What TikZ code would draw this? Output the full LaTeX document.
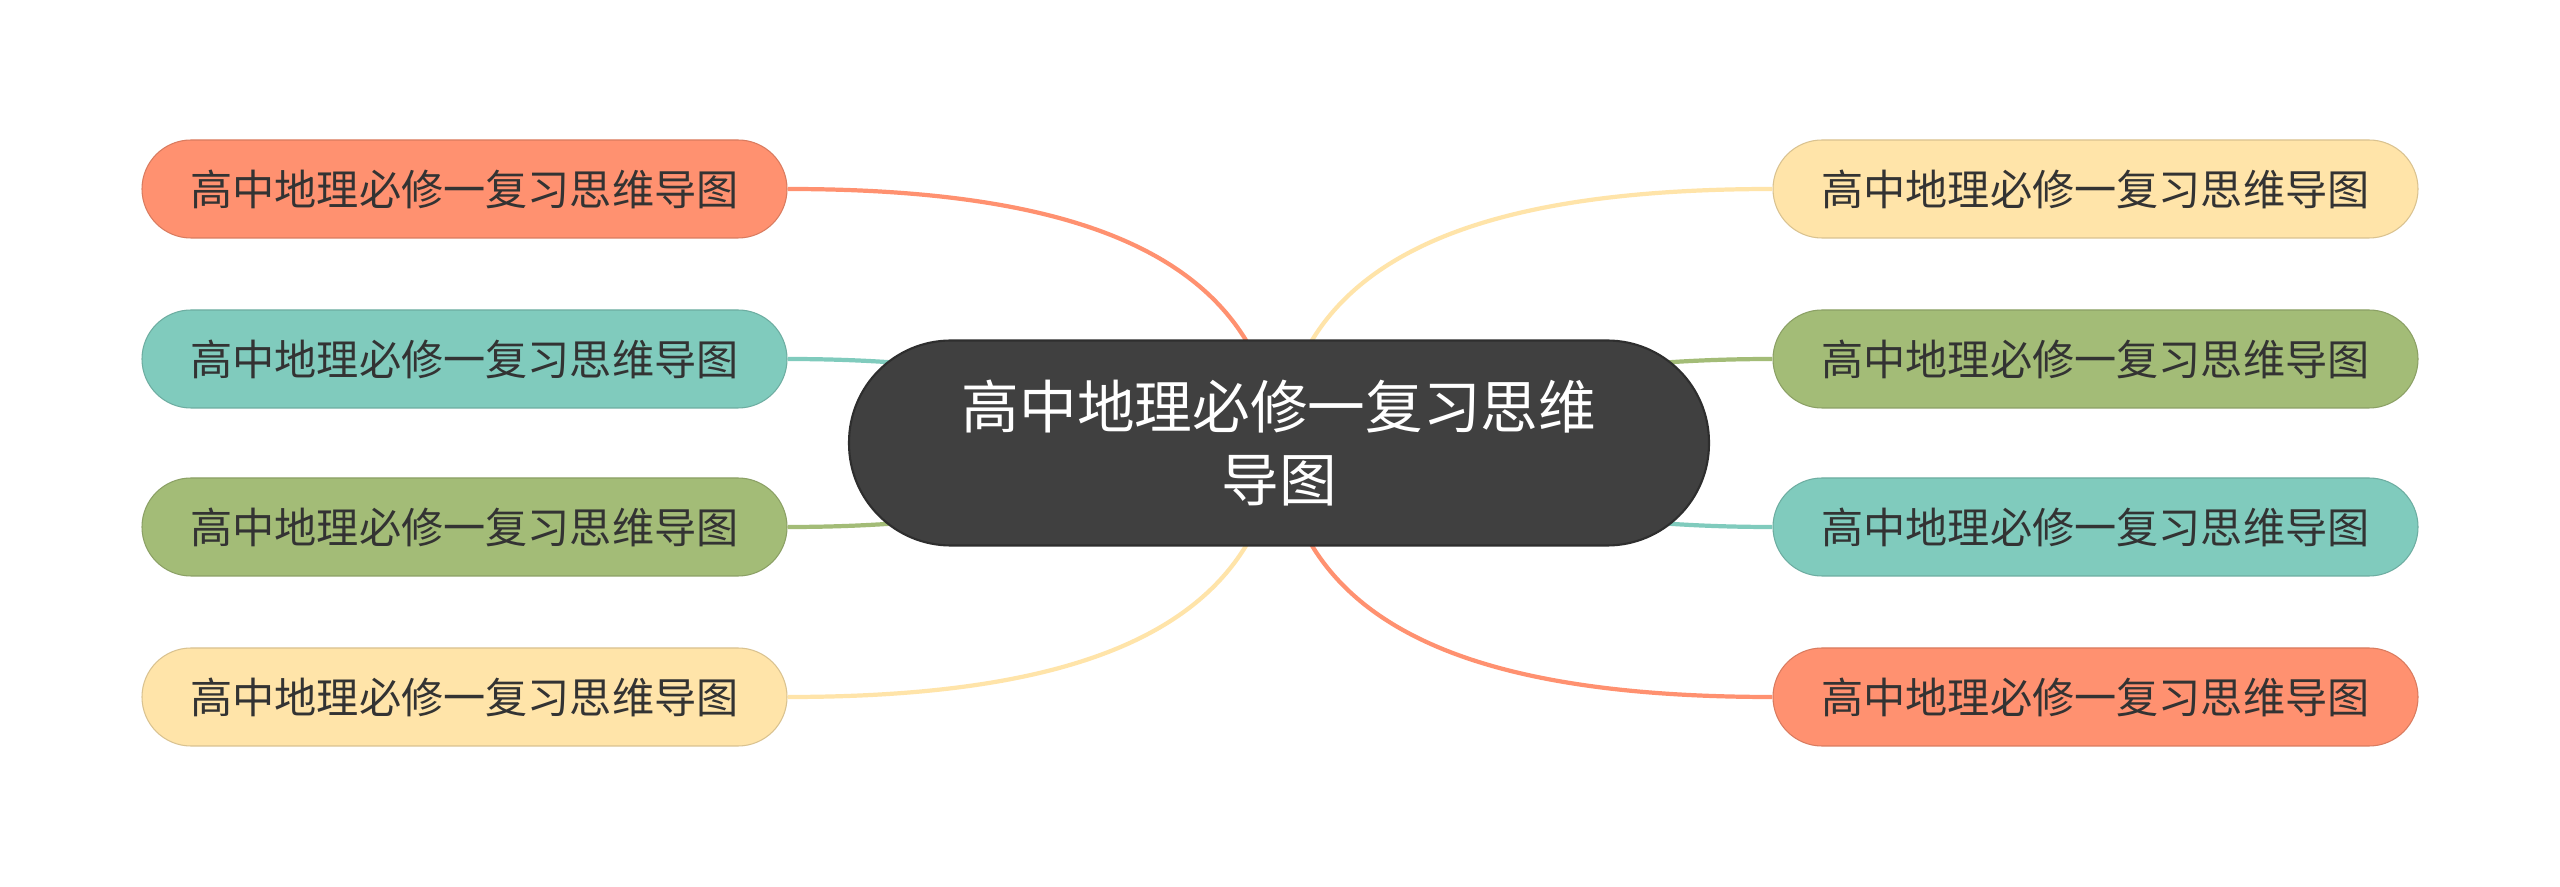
\documentclass[tikz,border=0pt]{standalone}
\usepackage{fontspec}
\setmainfont{Noto Sans CJK SC}
\definecolor{hubgray}{HTML}{404040}
\definecolor{hubedge}{HTML}{2E2E2E}
\definecolor{txtgray}{HTML}{333333}
\definecolor{mmorange}{HTML}{FF9170}
\definecolor{mmteal}{HTML}{80CBBD}
\definecolor{mmgreen}{HTML}{A3BC77}
\definecolor{mmyellow}{HTML}{FFE4A9}
\tikzset{
    hub/.style={rectangle,rounded corners=1.02cm,fill=hubgray,draw=hubedge,line width=0.6pt,
        minimum width=8.6cm,minimum height=2.05cm,align=center,text=white,
        font=\fontsize{16.4pt}{20.7pt}\selectfont},
    branch/.style={rectangle,rounded corners=0.49cm,fill=#1,draw=#1!85!black,line width=0.3pt,
        minimum width=6.45cm,minimum height=0.98cm,text=txtgray,
        font=\fontsize{12pt}{15pt}\selectfont},
    link/.style={#1,line width=1.2pt}
}
\begin{document}
\begin{tikzpicture}
    \useasboundingbox[fill=white] (0,0) rectangle (25.6,8.86);

    % left branches
    \node[branch=mmorange] (l1) at (4.645,6.97) {高中地理必修一复习思维导图};
    \node[branch=mmteal]   (l2) at (4.645,5.27) {高中地理必修一复习思维导图};
    \node[branch=mmgreen]  (l3) at (4.645,3.59) {高中地理必修一复习思维导图};
    \node[branch=mmyellow] (l4) at (4.645,1.89) {高中地理必修一复习思维导图};

    % right branches
    \node[branch=mmyellow] (r1) at (20.955,6.97) {高中地理必修一复习思维导图};
    \node[branch=mmgreen]  (r2) at (20.955,5.27) {高中地理必修一复习思维导图};
    \node[branch=mmteal]   (r3) at (20.955,3.59) {高中地理必修一复习思维导图};
    \node[branch=mmorange] (r4) at (20.955,1.89) {高中地理必修一复习思维导图};

    \coordinate (c) at (12.79,4.43);

    % connectors, behind the hub
    \draw[link=mmorange] (l1.east) .. controls (10.8,6.97) and (12.6,6.3) .. (c);
    \draw[link=mmteal]   (l2.east) .. controls (11,5.27) and (12,4.43) .. (c);
    \draw[link=mmgreen]  (l3.east) .. controls (11,3.59) and (12,4.43) .. (c);
    \draw[link=mmyellow] (l4.east) .. controls (10.8,1.89) and (12.6,2.56) .. (c);

    \draw[link=mmyellow] (r1.west) .. controls (14.78,6.97) and (12.98,6.3) .. (c);
    \draw[link=mmgreen]  (r2.west) .. controls (14.58,5.27) and (13.58,4.43) .. (c);
    \draw[link=mmteal]   (r3.west) .. controls (14.58,3.59) and (13.58,4.43) .. (c);
    \draw[link=mmorange] (r4.west) .. controls (14.78,1.89) and (12.98,2.56) .. (c);

    % central topic
    \node[hub] (hub) at (c) {高中地理必修一复习思维\\导图};
\end{tikzpicture}
\end{document}
